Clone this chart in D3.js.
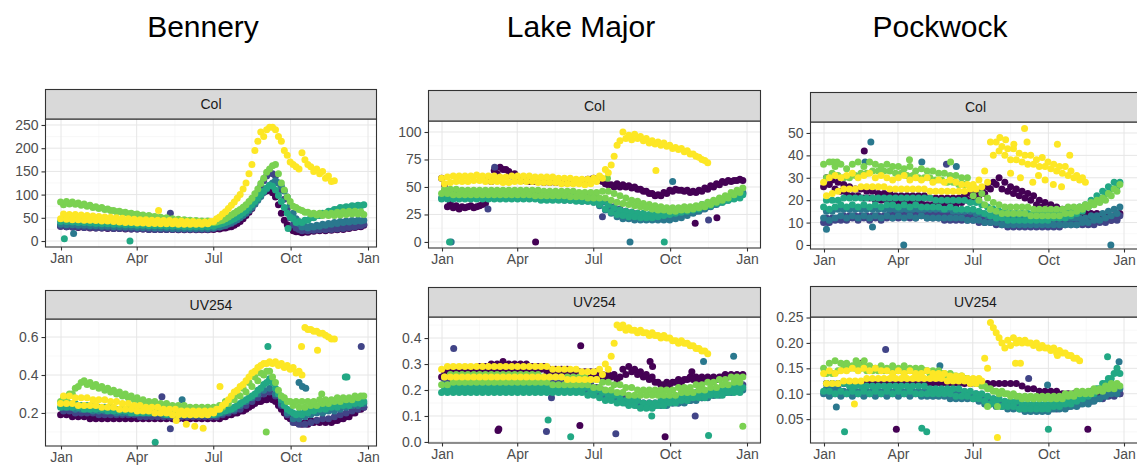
<!DOCTYPE html>
<html><head><meta charset="utf-8">
<script src="https://cdn.jsdelivr.net/npm/d3@7"></script>
<style>body{margin:0;background:#fff}svg{display:block}</style>
</head><body>
<svg id="c" width="1137" height="473"></svg>
<script>
// ---------- labels / categories ----------
const siteNames = ["Bennery", "Lake Major", "Pockwock"];
const stripLabels = ["Col", "UV254"];
const monthTickLabels = ["Jan", "Apr", "Jul", "Oct", "Jan"];
const monthTickDays = [1, 91, 182, 274, 366];
const weekDays = d3.range(52).map(i => 4 + 7 * i);     // weekly sampling grid A (day of year)
const weekDaysB = d3.range(52).map(i => 0.5 + 7 * i);  // mid-week sampling grid B (day of year)
const seriesColors = ["#440154", "#414487", "#2a788e", "#22a884", "#7ad151", "#fde725"];

// ---------- tick values ----------
const benneryColTicks = [0, 50, 100, 150, 200, 250];
const lakeMajorColTicks = [0, 25, 50, 75, 100];
const pockwockColTicks = [0, 10, 20, 30, 40, 50];
const benneryUvTicks = [0.2, 0.4, 0.6];
const lakeMajorUvTicks = [0.0, 0.1, 0.2, 0.3, 0.4];
const pockwockUvTicks = [0.05, 0.10, 0.15, 0.20, 0.25];

const _ = null;
// ---------- Bennery Col (weekly, one array per year; "b" = second reading per week) ----------
const benneryCol0 = [36,34,33,32,32,31,31,30,30,30,29,29,29, 28,28,28,28,28,27,27,27,27,27,26,26,26, 27,28,30,34,42,55,70,90,105,112,95,60,35, 22,20,20,22,24,25,25,26,27,28,30,32,34];
const benneryCol1 = [38,37,35,34,33,33,32,32,31,31,30,30,30, 29,29,29,29,28,28,28,28,28,28,28,28,28, 30,32,36,42,52,65,82,105,130,148,140,110,70, 35,25,24,25,26,27,27,28,29,30,32,34,36];
const benneryCol2 = [42,41,40,40,39,38,37,36,36,35,34,34,33, 33,32,32,31,31,31,30,30,30,30,30,30,30, 31,33,37,43,50,60,72,88,105,120,130,118,95, 60,38,32,32,34,36,38,40,42,43,44,45,45];
const benneryCol3 = [48,48,47,46,45,44,43,42,41,40,40,39,39, 38,38,37,37,36,36,35,35,35,35,34,34,34, 35,38,42,48,56,66,78,92,108,120,110,85,60, 48,42,45,50,55,60,64,68,72,74,76,77,78];
const benneryCol4 = [78,80,79,77,75,72,70,68,66,63,61,59,57, 55,53,52,50,48,47,45,44,43,42,41,40,40, 41,45,52,60,68,78,92,112,135,155,165,125,95, 75,68,62,58,56,55,55,55,56,57,58,58,57];
const benneryCol5 = [58,57,57,56,55,54,53,52,51,50,49,48,47, 46,46,45,45,44,44,43,43,42,42,41,41,42, 48,58,70,84,100,125,165,215,225,245,240,215,185, 165,155,175,160,155,150,140,130,_,_,_,_,_];
const benneryCol0b = [32,31,30,29,29,28,28,28,27,27,27,26,26, 26,26,25,25,25,25,25,24,24,24,24,24,24, 25,26,28,31,38,48,62,80,98,108,104,78,45, 28,20,18,19,21,22,22,23,24,25,27,29,31];
const benneryCol1b = [32,31,30,30,29,29,28,28,28,27,27,27,26, 26,26,25,25,25,25,25,25,25,25,25,25,25, 27,30,33,38,47,58,74,94,118,140,145,125,90, 50,28,22,22,23,24,24,25,26,27,29,31,33];
const benneryCol2b = [36,35,35,34,34,33,33,32,32,31,31,30,30, 29,29,29,28,28,28,27,27,27,27,27,27,27, 28,30,34,40,46,55,66,80,96,112,125,125,108, 78,48,30,28,30,32,34,36,38,40,41,42,43];
const benneryCol3b = [42,42,41,40,40,39,38,37,37,36,36,35,35, 34,34,33,33,33,32,32,32,31,31,31,31,31, 32,36,40,45,52,61,72,85,100,114,118,98,72, 52,40,40,45,50,55,60,64,68,71,73,75,76];
const benneryCol4b = [84,85,84,82,80,77,74,72,69,66,64,62,60, 58,56,55,53,51,50,48,47,46,45,44,43,43, 40,43,48,56,64,73,85,102,124,148,162,145,110, 85,72,66,62,60,60,60,60,62,63,64,64,63];
const benneryCol5b = [48,47,46,46,45,45,44,43,43,42,41,40,40, 39,39,38,38,37,37,37,36,36,36,36,36,37, 42,52,63,77,92,112,145,195,235,240,245,225,195, 170,160,190,165,150,145,135,128,_,_,_,_,_];
const benneryColOutliers = [[5,5,3],[16,16,2],[83,0,3],[117,66,5],[131,60,1],[271,27,3]];

// ---------- Lake Major Col ----------
const lakeMajorCol0 = [52,35,33,32,32,31,33,35,55,62,66,64,62, 57,56,55,55,54,54,54,54,54,54,55,56,57, 57,55,52,50,50,50,49,48,46,44,42,42,44, 46,47,46,45,45,46,48,50,52,54,55,56,56];
const lakeMajorCol1 = [46,45,45,44,44,44,44,45,45,45,45,45,45, 45,45,44,44,44,44,43,43,43,42,42,42,41, 40,38,35,32,30,28,27,26,25,24,24,23,23, 24,25,26,27,28,30,32,34,36,38,40,42,44];
const lakeMajorCol2 = [44,44,43,43,43,43,44,44,44,44,44,44,43, 43,43,43,43,42,42,42,42,41,41,41,40,40, 39,36,32,28,25,23,22,22,21,21,21,22,22, 23,24,26,27,29,31,33,35,37,39,41,43,45];
const lakeMajorCol3 = [42,42,42,42,42,42,42,42,42,42,42,42,42, 42,42,42,42,42,42,41,41,41,41,41,40,40, 39,37,34,31,29,28,27,26,26,25,25,26,27, 28,29,30,31,32,34,35,37,38,40,41,42,43];
const lakeMajorCol4 = [48,48,48,47,47,47,47,47,47,47,47,47,47, 47,47,47,47,46,46,46,46,46,46,45,45,45, 45,46,46,44,42,40,38,37,35,34,33,32,31, 31,31,32,32,33,34,36,38,40,42,45,47,49];
const lakeMajorCol5 = [53,54,55,55,55,56,56,55,55,55,54,54,55, 55,55,55,54,54,54,54,53,53,53,53,52,53, 55,58,63,78,92,94,93,94,92,90,89,88,87, 85,84,82,80,78,75,72,_,_,_,_,_,_];
const lakeMajorCol0b = [58,32,31,30,31,33,32,34,58,65,68,66,60, 57,56,55,55,55,55,55,55,54,54,55,56,57, 58,56,53,52,53,52,51,50,48,46,44,43,45, 47,48,47,47,46,47,49,51,53,55,56,56,57];
const lakeMajorCol2b = [40,40,40,40,40,40,40,40,40,40,40,40,40, 40,40,40,40,39,39,39,39,38,38,38,37,37, 36,33,29,26,23,21,21,20,20,20,20,20,20, 20,21,22,24,26,28,30,32,34,36,38,40,42];
const lakeMajorCol3b = [39,39,39,39,39,39,39,39,39,39,39,39,39, 39,39,39,39,38,38,38,38,38,38,37,37,37, 36,34,30,27,25,24,23,23,22,22,22,23,24, 25,26,27,28,29,30,32,33,35,36,38,39,40];
const lakeMajorCol4b = [44,44,43,43,43,43,43,43,43,43,43,43,43, 43,43,43,42,42,42,42,42,42,41,41,41,40, 40,40,40,38,36,35,34,33,32,31,30,29,29, 28,28,29,29,30,31,32,34,36,38,40,43,45];
const lakeMajorCol5b = [58,59,60,60,60,60,61,60,60,60,59,59,60, 60,60,60,59,59,59,59,58,58,58,57,57,57, 58,60,66,70,88,100,97,98,96,94,92,91,90, 88,86,85,83,80,77,74,_,_,_,_,_,_];
const lakeMajorColOutliers = [[113,0,0],[10,0,3],[12,0,2],[226,0,2],[267,0,3],[277,55,2],[193,23,1],[304,17,0],[320,20,1],[330,22,0],[257,65,5],[199,58,4],[56,30,1],[64,68,1]];

// ---------- Pockwock Col ----------
const pockwockCol0 = [30,29,28,27,26,25,25,24,24,23,23,23,22, 22,22,22,22,22,21,21,21,21,21,21,22,23, 24,25,26,28,30,28,26,25,24,23,22,20,19, 18,17,16,15,15,14,14,14,14,13,13,13,14];
const pockwockCol1 = [12,12,12,13,13,13,13,13,13,13,13,14,14, 14,14,14,14,14,14,14,14,14,14,13,13,13, 13,12,12,12,11,11,11,10,10,10,10,10,10, 10,10,10,10,10,10,10,10,11,11,12,12,13];
const pockwockCol2 = [15,15,16,16,16,16,16,16,16,16,16,16,16, 16,16,16,16,16,16,16,16,16,15,15,15,15, 14,14,13,13,13,12,12,12,12,12,12,12,12, 12,12,12,12,12,12,12,13,13,14,15,16,17];
const pockwockCol3 = [20,20,20,21,21,21,21,21,21,21,21,21,21, 21,21,21,21,21,21,20,20,20,20,20,20,19, 19,18,17,16,15,15,14,14,14,14,14,14,14, 14,15,15,15,16,17,18,20,22,24,26,28,28];
const pockwockCol4 = [30,32,31,30,30,31,32,32,33,33,33,33,32, 32,31,31,30,30,30,29,29,28,28,27,27,26, 25,23,21,19,18,17,17,17,17,17,16,16,16, 16,16,16,17,17,17,18,19,20,21,23,25,27];
const pockwockCol5 = [22,23,24,25,25,25,26,26,26,26,26,25,25, 25,25,25,25,25,24,24,24,24,24,24,24,25, 25,26,28,40,42,40,38,38,37,36,36,35,35, 34,33,32,31,30,29,28,_,_,_,_,_,_];
const pockwockCol0b = [26,27,25,24,23,22,22,21,21,20,20,20,19, 19,19,19,19,19,18,18,18,18,18,18,19,20, 21,22,23,25,27,25,24,23,22,21,20,18,17, 16,15,14,14,13,13,12,12,12,12,11,11,12];
const pockwockCol1b = [10,10,11,11,11,12,11,12,11,12,11,12,12, 12,13,12,12,13,12,12,12,11,11,11,11,11, 11,10,10,10,9,9,8,8,8,8,8,8,8, 8,8,8,9,9,9,9,9,9,10,10,11,11];
const pockwockCol2b = [12,11,12,13,12,13,12,13,12,13,12,13,12, 13,12,13,12,13,12,12,12,12,12,12,12,11, 11,11,10,10,10,9,9,9,9,9,9,9,9, 9,9,9,9,9,9,10,10,11,11,12,13,14];
const pockwockCol3b = [17,16,17,18,17,18,17,18,17,18,17,18,18, 17,18,17,18,17,17,17,17,16,17,16,16,16, 16,15,14,13,12,12,11,11,11,11,11,11,11, 11,12,12,12,13,14,15,17,19,21,23,25,26];
const pockwockCol4b = [36,37,35,36,34,36,37,35,37,36,35,36,35, 35,34,35,33,34,33,33,32,32,31,31,30,30, 22,20,18,16,15,14,14,14,14,14,13,13,13, 13,13,13,14,14,15,16,17,18,19,20,22,24];
const pockwockCol5b = [28,30,31,30,31,32,30,31,32,30,31,30,29, 30,31,29,30,29,30,28,29,28,29,28,27,27, 27,29,33,46,46,44,43,43,41,40,40,38,39, 37,36,35,35,33,31,30,_,_,_,_,_,_];
const pockwockColOutliers = [[98,0,2],[350,0,2],[50,42,0],[58,46,2],[51,37,2],[4,7,2],[5,10,1],[12,37,4],[17,37,4],[105,38,4],[120,37,2],[150,36,1],[162,35,2],[155,37,4],[245,52,5],[232,45,5],[285,45,5],[60,8,2],
  [215,48,5],[222,47,5],[228,32,5],[240,30,5],[248,46,5],[255,28,5],[262,31,5],[270,29,5],[280,27,5],[290,26,5],[300,40,5]];

// ---------- Bennery UV254 ----------
const benneryUv0 = [.20,.20,.19,.19,.19,.18,.18,.18,.18,.18,.18,.18,.18, .18,.18,.18,.18,.18,.18,.18,.18,.18,.18,.18,.18,.18, .18,.18,.19,.20,.21,.22,.24,.26,.27,.28,.26,.22,.18, .16,.15,.15,.16,.16,.16,.16,.16,.17,.18,.20,.22,.23];
const benneryUv1 = [.21,.21,.20,.20,.20,.20,.19,.19,.19,.19,.19,.19,.19, .18,.18,.18,.18,.18,.18,.18,.18,.18,.18,.18,.18,.18, .18,.19,.20,.21,.22,.24,.26,.28,.30,.31,.29,.24,.19, .15,.14,.14,.15,.16,.17,.17,.18,.19,.20,.21,.22,.23];
const benneryUv2 = [.23,.23,.22,.22,.22,.21,.21,.21,.21,.20,.20,.20,.20, .20,.20,.20,.20,.19,.19,.19,.19,.19,.19,.19,.19,.19, .19,.20,.21,.22,.24,.26,.28,.30,.32,.33,.30,.25,.20, .17,.17,.18,.19,.20,.20,.21,.21,.22,.23,.24,.24,.25];
const benneryUv3 = [.25,.25,.25,.24,.24,.24,.23,.23,.23,.22,.22,.22,.22, .21,.21,.21,.21,.21,.21,.20,.20,.20,.20,.20,.20,.20, .20,.21,.22,.23,.25,.27,.29,.32,.35,.38,.33,.27,.22, .20,.20,.21,.22,.23,.23,.24,.24,.25,.25,.26,.26,.26];
const benneryUv4 = [.28,.30,.33,.36,.35,.34,.33,.32,.31,.30,.29,.28,.27, .26,.25,.25,.24,.24,.23,.23,.23,.22,.22,.22,.22,.22, .22,.23,.25,.27,.29,.31,.34,.37,.40,.42,.36,.29,.26, .24,.23,.23,.24,.24,.25,.25,.26,.26,.27,.27,.28,.29];
const benneryUv5 = [.29,.29,.28,.28,.28,.27,.27,.27,.26,.26,.25,.25,.24, .24,.23,.23,.23,.22,.22,.22,.21,.21,.21,.21,.21,.21, .22,.24,.27,.31,.34,.37,.41,.44,.46,.47,.47,.46,.45, .44,.42,.65,.64,.63,.62,.60,.59,_,_,_,_,_];
const benneryUv0b = [.19,.19,.18,.18,.18,.17,.17,.17,.17,.17,.17,.17,.17, .17,.17,.17,.17,.17,.17,.17,.17,.17,.17,.17,.17,.17, .17,.17,.18,.19,.20,.21,.23,.25,.26,.27,.27,.24,.20, .17,.15,.14,.14,.15,.15,.15,.15,.16,.17,.18,.20,.22];
const benneryUv3b = [.23,.23,.23,.23,.22,.22,.22,.22,.21,.21,.21,.21,.20, .20,.20,.20,.20,.20,.19,.19,.19,.19,.19,.19,.19,.19, .19,.20,.21,.22,.24,.26,.28,.30,.33,.36,.36,.30,.24, .21,.19,.19,.20,.21,.22,.22,.23,.23,.24,.24,.25,.25];
const benneryUv4b = [.26,.27,.30,.34,.37,.36,.35,.34,.33,.32,.31,.30,.29, .28,.27,.26,.26,.25,.25,.24,.24,.24,.23,.23,.23,.23, .23,.24,.26,.28,.30,.33,.36,.39,.41,.42,.39,.32,.28, .26,.26,.26,.26,.26,.27,.27,.27,.28,.28,.28,.29,.29];
const benneryUv5b = [.25,.25,.25,.24,.24,.24,.24,.23,.23,.23,.22,.22,.22, .21,.21,.21,.20,.20,.20,.19,.19,.19,.19,.19,.19,.19, .20,.22,.25,.29,.32,.35,.39,.42,.45,.46,.46,.45,.44, .43,.41,.40,.64,.63,.62,.61,.59,_,_,_,_,_];
const benneryUvOutliers = [[247,.55,3],[358,.55,1],[339,.39,3],[341,.39,3],[113,.046,3],[245,.10,4],[121,.285,1],[131,.117,1],[145,.27,2],[311,.30,4],[284,.36,2],[288,.34,2],[292,.33,2],[190,.34,5],[289,.064,5],[287,.55,5],[306,.53,5],[138,.16,5],[150,.14,5],[160,.13,5],[170,.12,5]];

// ---------- Lake Major UV254 ----------
const lakeMajorUv0 = [.27,.27,.27,.28,.28,.28,.29,.29,.30,.30,.31,.30,.30, .30,.30,.29,.29,.29,.28,.28,.28,.28,.27,.27,.27,.27, .27,.26,.26,.26,.25,.26,.27,.26,.25,.24,.23,.22,.23, .23,.24,.24,.25,.25,.25,.25,.25,.25,.26,.26,.26,.26];
const lakeMajorUv1 = [.24,.24,.24,.24,.24,.24,.24,.24,.24,.24,.24,.24,.24, .24,.24,.24,.24,.24,.23,.23,.23,.23,.23,.22,.22,.22, .21,.20,.19,.18,.17,.17,.16,.16,.15,.15,.15,.15,.15, .15,.15,.16,.16,.17,.17,.18,.18,.19,.19,.20,.21,.22];
const lakeMajorUv2 = [.22,.22,.22,.22,.22,.22,.22,.22,.22,.22,.22,.22,.22, .22,.22,.22,.22,.22,.22,.21,.21,.21,.21,.21,.20,.20, .19,.18,.17,.17,.16,.15,.15,.14,.14,.14,.14,.14,.14, .15,.15,.15,.16,.16,.17,.17,.18,.18,.19,.19,.20,.20];
const lakeMajorUv3 = [.21,.21,.21,.21,.21,.21,.21,.21,.21,.21,.21,.21,.21, .21,.21,.21,.21,.21,.21,.21,.21,.21,.21,.21,.21,.20, .20,.19,.18,.18,.17,.16,.16,.16,.15,.15,.15,.16,.16, .17,.17,.18,.18,.19,.19,.19,.20,.20,.20,.21,.21,.21];
const lakeMajorUv4 = [.25,.26,.26,.26,.26,.26,.26,.26,.26,.26,.26,.26,.26, .26,.26,.26,.26,.25,.25,.25,.25,.25,.25,.25,.25,.24, .24,.23,.23,.22,.22,.21,.21,.20,.20,.20,.20,.20,.20, .20,.21,.21,.21,.22,.22,.23,.23,.24,.24,.25,.25,.25];
const lakeMajorUv5 = [.25,.25,.25,.25,.25,.25,.25,.25,.25,.25,.25,.25,.25, .25,.25,.25,.25,.25,.25,.25,.25,.24,.24,.24,.24,.24, .24,.26,.28,.38,.44,.43,.43,.42,.42,.41,.41,.40,.40, .39,.38,.38,.37,.36,.35,.34,_,_,_,_,_,_];
const lakeMajorUv0b = [.25,.25,.26,.26,.27,.27,.28,.28,.28,.28,.28,.28,.28, .28,.28,.28,.28,.28,.27,.27,.27,.27,.27,.27,.26,.26, .26,.25,.25,.25,.24,.28,.29,.28,.27,.26,.25,.23,.22, .22,.23,.23,.24,.24,.24,.24,.24,.24,.25,.25,.25,.25];
const lakeMajorUv3b = [.19,.19,.19,.19,.19,.19,.19,.19,.19,.19,.19,.19,.19, .19,.19,.19,.19,.19,.19,.19,.19,.19,.19,.19,.19,.18, .18,.17,.16,.16,.15,.15,.14,.14,.13,.13,.13,.14,.14, .15,.15,.16,.16,.17,.17,.17,.18,.18,.18,.19,.19,.19];
const lakeMajorUv4b = [.22,.22,.23,.23,.23,.23,.23,.23,.23,.23,.23,.23,.23, .23,.23,.23,.23,.23,.23,.22,.22,.22,.22,.22,.22,.22, .21,.21,.20,.20,.19,.19,.18,.18,.18,.18,.18,.18,.18, .18,.18,.19,.19,.19,.20,.20,.21,.21,.22,.22,.23,.23];
const lakeMajorUv5b = [.28,.29,.29,.29,.29,.29,.29,.29,.29,.29,.29,.29,.29, .29,.29,.29,.29,.29,.29,.28,.28,.28,.28,.28,.27,.27, .27,.28,.30,.33,.45,.45,.44,.43,.43,.42,.42,.41,.41, .40,.39,.39,.38,.37,.36,.35,_,_,_,_,_,_];
const lakeMajorUvOutliers = [[15,.36,1],[167,.37,0],[68,.044,0],[69,.05,0],[126,.04,1],[132,.17,1],[128,.085,3],[155,.02,3],[166,.063,0],[209,.032,1],[268,.02,0],[252,.10,3],[304,.10,1],[320,.025,3],[361,.06,4],[350,.33,2],[314,.31,2],[250,.31,0],[253,.29,0],[300,.27,0]];

// ---------- Pockwock UV254 ----------
const pockwockUv0 = [.12,.12,.12,.12,.12,.12,.12,.12,.12,.12,.12,.12,.12, .12,.12,.12,.12,.12,.12,.12,.12,.12,.12,.12,.12,.12, .12,.12,.12,.12,.12,.12,.12,.12,.115,.11,.11,.105,.105, .105,.105,.10,.10,.10,.10,.10,.10,.10,.10,.10,.10,.10];
const pockwockUv1 = [.105,.10,.10,.10,.10,.10,.10,.10,.10,.10,.10,.10,.10, .10,.10,.10,.10,.10,.10,.10,.10,.10,.10,.10,.10,.095, .095,.09,.09,.085,.08,.08,.075,.075,.07,.07,.07,.07,.07, .07,.07,.075,.075,.08,.08,.085,.085,.09,.09,.095,.095,.10];
const pockwockUv2 = [.11,.11,.11,.105,.105,.105,.105,.105,.105,.105,.105,.105,.105, .105,.105,.105,.105,.105,.105,.105,.10,.10,.10,.10,.10,.10, .10,.095,.09,.09,.085,.08,.08,.08,.075,.075,.075,.075,.075, .075,.075,.08,.08,.08,.085,.085,.09,.09,.095,.10,.105,.11];
const pockwockUv3 = [.12,.12,.12,.12,.115,.115,.115,.115,.115,.115,.115,.115,.115, .115,.115,.115,.115,.115,.11,.11,.11,.11,.11,.11,.105,.105, .10,.10,.095,.09,.09,.085,.085,.085,.08,.08,.08,.08,.08, .08,.085,.085,.09,.09,.095,.10,.105,.11,.12,.13,.14,.14];
const pockwockUv4 = [.14,.14,.145,.15,.15,.15,.15,.145,.145,.145,.145,.145,.145, .145,.145,.145,.145,.145,.14,.14,.14,.135,.135,.13,.13,.125, .12,.115,.11,.105,.10,.10,.095,.095,.09,.09,.09,.09,.09, .09,.09,.09,.095,.095,.10,.10,.10,.105,.105,.11,.11,.115];
const pockwockUv5 = [.12,.12,.12,.125,.125,.125,.125,.13,.13,.13,.13,.13,.13, .13,.13,.13,.13,.13,.13,.13,.13,.125,.125,.125,.125,.12, .12,.125,.15,.23,.21,.19,.195,.20,.20,.20,.195,.19,.19, .185,.18,.18,.175,.17,.165,_,_,_,_,_,_,_];
const pockwockUv2b = [.10,.095,.10,.095,.10,.095,.10,.095,.10,.095,.10,.095,.10, .095,.10,.095,.10,.095,.095,.095,.095,.095,.09,.09,.09,.09, .09,.085,.08,.08,.075,.075,.07,.07,.07,.065,.065,.065,.065, .065,.07,.07,.07,.075,.075,.08,.08,.085,.09,.095,.10,.10];
const pockwockUv3b = [.105,.105,.10,.105,.10,.105,.10,.105,.10,.105,.10,.105,.10, .105,.10,.105,.10,.10,.10,.10,.10,.10,.10,.095,.095,.095, .09,.09,.085,.08,.08,.075,.075,.075,.07,.07,.07,.07,.07, .07,.075,.075,.08,.08,.085,.09,.095,.10,.11,.12,.13,.15];
const pockwockUv4b = [.15,.16,.165,.16,.16,.155,.16,.155,.155,.15,.155,.15,.155, .15,.155,.15,.15,.15,.145,.145,.145,.14,.14,.135,.135,.13, .125,.12,.115,.11,.105,.105,.10,.10,.095,.095,.095,.095,.095, .095,.095,.095,.10,.10,.105,.105,.105,.11,.11,.115,.12,.12];
const pockwockUv5b = [.14,.145,.14,.145,.145,.15,.145,.15,.145,.15,.145,.145,.14, .145,.14,.145,.14,.14,.145,.14,.14,.14,.135,.135,.135,.13, .13,.13,.17,.24,.22,.20,.205,.21,.205,.205,.20,.20,.195, .19,.19,.185,.18,.175,.17,_,_,_,_,_,_,_];
const pockwockUvOutliers = [[76,.187,1],[26,.157,0],[26,.025,3],[89,.03,0],[120,.032,3],[126,.025,3],[212,.014,5],[274,.03,3],[322,.03,0],[346,.173,3],[360,.163,2],[134,.096,0],[16,.074,2],[38,.08,5],[200,.075,4],[212,.075,4],[234,.16,5],[240,.16,5],[250,.13,1],[273,.117,2],[40,.165,4],[50,.165,4],[46,.16,0],[142,.155,2],[285,.175,5]];

// ---------- layout (pixels) ----------
const panels = [
  {site:0, strip:0, series:[benneryCol0,benneryCol1,benneryCol2,benneryCol3,benneryCol4,benneryCol5],
   seriesB:[benneryCol0b,benneryCol1b,benneryCol2b,benneryCol3b,benneryCol4b,benneryCol5b],
   outliers:benneryColOutliers, ticks:benneryColTicks, fmt:d3.format("d"),
   left:45, right:377, stripTop:89, top:119, bottom:247, x0:61, x1:368, yDomain:[-12.9, 262.9]},
  {site:1, strip:0, series:[lakeMajorCol0,lakeMajorCol1,lakeMajorCol2,lakeMajorCol3,lakeMajorCol4,lakeMajorCol5],
   seriesB:[lakeMajorCol0b,null,lakeMajorCol2b,lakeMajorCol3b,lakeMajorCol4b,lakeMajorCol5b],
   outliers:lakeMajorColOutliers, ticks:lakeMajorColTicks, fmt:d3.format("d"),
   left:428, right:761, stripTop:90, top:121, bottom:248, x0:442, x1:747, yDomain:[-5.5, 110]},
  {site:2, strip:0, series:[pockwockCol0,pockwockCol1,pockwockCol2,pockwockCol3,pockwockCol4,pockwockCol5],
   seriesB:[pockwockCol0b,pockwockCol1b,pockwockCol2b,pockwockCol3b,pockwockCol4b,pockwockCol5b],
   outliers:pockwockColOutliers, ticks:pockwockColTicks, fmt:d3.format("d"),
   left:810, right:1141, stripTop:92, top:122, bottom:249, x0:824, x1:1124, yDomain:[-1.8, 54.9]},
  {site:0, strip:1, series:[benneryUv0,benneryUv1,benneryUv2,benneryUv3,benneryUv4,benneryUv5],
   seriesB:[benneryUv0b,null,null,benneryUv3b,benneryUv4b,benneryUv5b],
   outliers:benneryUvOutliers, ticks:benneryUvTicks, fmt:d3.format(".1f"),
   left:45, right:377, stripTop:290, top:319, bottom:446, x0:61, x1:368, yDomain:[0.026, 0.695]},
  {site:1, strip:1, series:[lakeMajorUv0,lakeMajorUv1,lakeMajorUv2,lakeMajorUv3,lakeMajorUv4,lakeMajorUv5],
   seriesB:[lakeMajorUv0b,null,null,lakeMajorUv3b,lakeMajorUv4b,lakeMajorUv5b],
   outliers:lakeMajorUvOutliers, ticks:lakeMajorUvTicks, fmt:d3.format(".1f"),
   left:428, right:761, stripTop:287, top:317, bottom:443, x0:442, x1:747, yDomain:[-0.004, 0.481]},
  {site:2, strip:1, series:[pockwockUv0,pockwockUv1,pockwockUv2,pockwockUv3,pockwockUv4,pockwockUv5],
   seriesB:[null,null,pockwockUv2b,pockwockUv3b,pockwockUv4b,pockwockUv5b],
   outliers:pockwockUvOutliers, ticks:pockwockUvTicks, fmt:d3.format(".2f"),
   left:810, right:1141, stripTop:286, top:317, bottom:443, x0:824, x1:1124, yDomain:[0.003, 0.251]}
];
const titleCenters = [203, 581, 940];
const R = 3.5;

const svg = d3.select("#c");
const FONT = "'Liberation Sans', Arial, Helvetica, sans-serif";

siteNames.forEach((s, i) => {
  svg.append("text").attr("x", titleCenters[i]).attr("y", 37).attr("text-anchor", "middle")
    .attr("font-family", FONT).attr("font-size", 30).attr("fill", "#000").text(s);
});

panels.forEach(p => {
  const g = svg.append("g");
  const x = d3.scaleLinear().domain([1, 366]).range([p.x0, p.x1]);
  const y = d3.scaleLinear().domain(p.yDomain).range([p.bottom, p.top]);
  const w = p.right - p.left, h = p.bottom - p.top;

  const clipId = "clip" + p.site + "_" + p.strip;
  g.append("clipPath").attr("id", clipId).append("rect")
    .attr("x", p.left).attr("y", p.top).attr("width", w).attr("height", h);

  g.append("rect").attr("x", p.left).attr("y", p.top).attr("width", w).attr("height", h).attr("fill", "#fff");

  // grid
  const minorX = monthTickDays.slice(0, -1).map((d, i) => (d + monthTickDays[i + 1]) / 2);
  const step = p.ticks[1] - p.ticks[0];
  const minorY = [p.ticks[0] - step / 2].concat(p.ticks.map(t => t + step / 2))
    .filter(v => v > p.yDomain[0] && v < p.yDomain[1]);
  const grid = g.append("g").attr("clip-path", `url(#${clipId})`);
  grid.selectAll(".mx").data(minorX).join("line")
    .attr("x1", d => x(d)).attr("x2", d => x(d)).attr("y1", p.top).attr("y2", p.bottom)
    .attr("stroke", "#f3f3f3").attr("stroke-width", 0.6);
  grid.selectAll(".my").data(minorY).join("line")
    .attr("x1", p.left).attr("x2", p.right).attr("y1", d => y(d)).attr("y2", d => y(d))
    .attr("stroke", "#f3f3f3").attr("stroke-width", 0.6);
  grid.selectAll(".gx").data(monthTickDays).join("line")
    .attr("x1", d => x(d)).attr("x2", d => x(d)).attr("y1", p.top).attr("y2", p.bottom)
    .attr("stroke", "#e6e6e6").attr("stroke-width", 1);
  grid.selectAll(".gy").data(p.ticks).join("line")
    .attr("x1", p.left).attr("x2", p.right).attr("y1", d => y(d)).attr("y2", d => y(d))
    .attr("stroke", "#e6e6e6").attr("stroke-width", 1);

  // points: years drawn in order, latest on top
  const pts = g.append("g").attr("clip-path", `url(#${clipId})`);
  p.series.forEach((vals, si) => {
    let data = vals.map((v, i) => [weekDays[i], v]);
    const b = p.seriesB[si];
    if (b) data = data.concat(b.map((v, i) => [weekDaysB[i], v]));
    data = data.filter(d => d[1] !== null).concat(p.outliers.filter(o => o[2] === si));
    pts.append("g").selectAll("circle").data(data).join("circle")
      .attr("cx", d => x(d[0])).attr("cy", d => y(d[1])).attr("r", R)
      .attr("fill", seriesColors[si]);
  });

  // border
  g.append("rect").attr("x", p.left + 0.5).attr("y", p.top).attr("width", w - 1).attr("height", h)
    .attr("fill", "none").attr("stroke", "#333").attr("stroke-width", 1.1);

  // strip
  g.append("rect").attr("x", p.left + 0.5).attr("y", p.stripTop + 0.5).attr("width", w - 1).attr("height", p.top - p.stripTop - 0.5)
    .attr("fill", "#d9d9d9").attr("stroke", "#333").attr("stroke-width", 1.1);
  g.append("text").attr("x", (p.left + Math.min(p.right, 1137)) / 2 + (p.right > 1137 ? 2 : 0)).attr("y", (p.stripTop + p.top) / 2 + 5)
    .attr("text-anchor", "middle").attr("font-family", FONT).attr("font-size", 14).attr("fill", "#1a1a1a")
    .text(stripLabels[p.strip]);

  // axes
  const xAxis = d3.axisBottom(x).tickValues(monthTickDays).tickFormat((d, i) => monthTickLabels[i]).tickSize(3.5).tickPadding(3);
  const ax = g.append("g").attr("transform", `translate(0,${p.bottom})`).call(xAxis);
  const yAxis = d3.axisLeft(y).tickValues(p.ticks).tickFormat(p.fmt).tickSize(3.5).tickPadding(3);
  const ay = g.append("g").attr("transform", `translate(${p.left},0)`).call(yAxis);
  [ax, ay].forEach(a => {
    a.select(".domain").remove();
    a.selectAll(".tick line").attr("stroke", "#333").attr("stroke-width", 1.1);
    a.selectAll(".tick text").attr("fill", "#4d4d4d").attr("font-family", FONT).attr("font-size", 14);
  });
});
</script>
</body></html>
